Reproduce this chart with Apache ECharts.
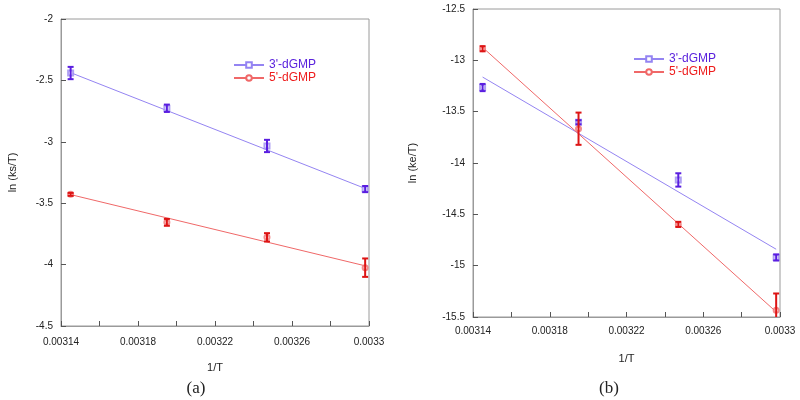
<!DOCTYPE html>
<html>
<head>
<meta charset="utf-8">
<script src="https://cdn.jsdelivr.net/npm/echarts@6/dist/echarts.min.js"></script>
<style>html,body{margin:0;padding:0;background:#fff}#c{width:800px;height:400px}</style>
</head>
<body>
<div id="c"></div>
<script>
// ---- data ----
const invT = [0.003145, 0.003195, 0.003247, 0.003298];
const fitX = [0.003145, 0.003298];
const seriesNames = ["3'-dGMP", "5'-dGMP"];
const xTicks = ["0.00314", "0.00318", "0.00322", "0.00326", "0.0033"];

// (a) ln(ks/T)
const a3 = [-2.44, -2.727, -3.034, -3.385];
const a3err = [0.05, 0.03, 0.05, 0.025];
const a5 = [-3.428, -3.656, -3.778, -4.025];
const a5err = [0.012, 0.028, 0.034, 0.075];
const a3fit = [-2.437, -3.38];
const a5fit = [-3.43, -4.01];

// (b) ln(ke/T)
const b3 = [-13.265, -13.603, -14.165, -14.92];
const b3err = [0.035, 0.02, 0.065, 0.03];
const b5 = [-12.887, -13.666, -14.598, -15.434];
const b5err = [0.025, 0.157, 0.025, 0.163];
const b3fit = [-13.163, -14.84];
const b5fit = [-12.874, -15.45];

// ---- styles ----
const C3line = '#9484f2', C3bar = '#5a1ee0', C3mark = '#9a88f0', C3text = '#5a22dd';
const C5line = '#f06868', C5bar = '#dd1414', C5mark = '#f07070', C5text = '#ee1c1c';
const AX = '#9a9a9a';
const FONT = 'Liberation Sans, Arial, sans-serif';

const pts = (ys) => ys.map((y, i) => [invT[i], y]);
const errPts = (ys, es) => ys.map((y, i) => [invT[i], y, es[i]]);
const fitPts = (ys) => ys.map((y, i) => [fitX[i], y]);

function xAxis(gi) {
  return {
    type: 'value', gridIndex: gi, min: 0.00314, max: 0.0033, interval: 0.00002,
    name: '1/T', nameLocation: 'middle', nameGap: 36,
    nameTextStyle: { fontFamily: FONT, fontSize: 11, color: '#222' },
    axisLine: { show: true, lineStyle: { color: AX, width: 1 } },
    axisTick: { show: true, inside: true, length: 5, lineStyle: { color: '#555' } },
    splitLine: { show: false },
    axisLabel: {
      interval: 0, margin: gi === 0 ? 11 : 9, fontFamily: FONT, fontSize: 10, color: '#222',
      formatter: (v) => {
        const k = Math.round((v - 0.00314) / 0.00002);
        return k % 2 === 0 ? xTicks[k / 2] : '';
      }
    }
  };
}
function yAxis(gi, min, max, name, gap) {
  return {
    type: 'value', gridIndex: gi, min: min, max: max, interval: 0.5,
    name: name, nameLocation: 'middle', nameGap: gap, nameRotate: 90,
    nameTextStyle: { fontFamily: FONT, fontSize: 11, color: '#222' },
    axisLine: { show: true, lineStyle: { color: AX, width: 1 } },
    axisTick: { show: true, inside: true, length: 5, lineStyle: { color: '#555' } },
    splitLine: { show: false },
    axisLabel: { margin: 8, fontFamily: FONT, fontSize: 10, color: '#222' }
  };
}
function errSeries(gi, data, color) {
  return {
    type: 'custom', xAxisIndex: gi, yAxisIndex: gi, data: data, clip: true, z: 5, silent: true,
    renderItem: (params, api) => {
      const x = api.value(0), y = api.value(1), e = api.value(2);
      const top = api.coord([x, y + e]), bot = api.coord([x, y - e]);
      const h = 3;
      const st = { stroke: color, lineWidth: 2 };
      return {
        type: 'group', children: [
          { type: 'line', shape: { x1: top[0], y1: top[1], x2: bot[0], y2: bot[1] }, style: st },
          { type: 'line', shape: { x1: top[0] - h, y1: top[1], x2: top[0] + h, y2: top[1] }, style: st },
          { type: 'line', shape: { x1: bot[0] - h, y1: bot[1], x2: bot[0] + h, y2: bot[1] }, style: st }
        ]
      };
    }
  };
}
function markSeries(gi, data, symbol, color) {
  return {
    type: 'scatter', name: 'pts' + gi + symbol, xAxisIndex: gi, yAxisIndex: gi, data: data,
    symbol: symbol, symbolSize: 5, itemStyle: { color: color, borderWidth: 1 }, z: 4, silent: true
  };
}
function fitSeries(gi, name, data, color, symbol) {
  return {
    type: 'line', name: name, xAxisIndex: gi, yAxisIndex: gi, data: data,
    symbol: symbol, showSymbol: false, symbolSize: 5,
    lineStyle: { color: color, width: 1 }, itemStyle: { color: color }, z: 3, silent: true
  };
}
function legend(left, top) {
  return {
    left: left, top: top, orient: 'vertical', itemWidth: 30, itemHeight: 7, itemGap: 0,
    padding: 0, selectedMode: false,
    textStyle: { fontFamily: FONT, fontSize: 12, lineHeight: 13 },
    itemStyle: { borderWidth: 1 },
    data: [
      { name: seriesNames[0], textStyle: { color: C3text } },
      { name: seriesNames[1], textStyle: { color: C5text } }
    ]
  };
}

const chart = echarts.init(document.getElementById('c'), null, { renderer: 'canvas' });
chart.setOption({
  animation: false,
  backgroundColor: '#fff',
  title: [
    { text: '(a)', left: 191, top: 375, textAlign: 'center',
      textStyle: { fontFamily: 'Liberation Serif, Times New Roman, serif', fontSize: 17, fontWeight: 'normal', color: '#222' } },
    { text: '(b)', left: 604, top: 375, textAlign: 'center',
      textStyle: { fontFamily: 'Liberation Serif, Times New Roman, serif', fontSize: 17, fontWeight: 'normal', color: '#222' } }
  ],
  legend: [legend(233, 58.5), legend(633, 52.5)],
  grid: [
    { left: 61, top: 19, width: 308, height: 307, show: true, borderColor: AX, borderWidth: 1, containLabel: false },
    { left: 473, top: 9, width: 307, height: 308, show: true, borderColor: AX, borderWidth: 1, containLabel: false }
  ],
  xAxis: [xAxis(0), xAxis(1)],
  yAxis: [yAxis(0, -4.5, -2, 'ln (ks/T)', 43), yAxis(1, -15.5, -12.5, 'ln (ke/T)', 55)],
  series: [
    fitSeries(0, seriesNames[0], fitPts(a3fit), C3line, 'emptyRect'),
    fitSeries(0, seriesNames[1], fitPts(a5fit), C5line, 'emptyCircle'),
    fitSeries(1, seriesNames[0], fitPts(b3fit), C3line, 'emptyRect'),
    fitSeries(1, seriesNames[1], fitPts(b5fit), C5line, 'emptyCircle'),
    markSeries(0, pts(a3), 'emptyRect', C3mark),
    markSeries(0, pts(a5), 'emptyCircle', C5mark),
    markSeries(1, pts(b3), 'emptyRect', C3mark),
    markSeries(1, pts(b5), 'emptyCircle', C5mark),
    errSeries(0, errPts(a3, a3err), C3bar),
    errSeries(0, errPts(a5, a5err), C5bar),
    errSeries(1, errPts(b3, b3err), C3bar),
    errSeries(1, errPts(b5, b5err), C5bar)
  ]
});
</script>
</body>
</html>
